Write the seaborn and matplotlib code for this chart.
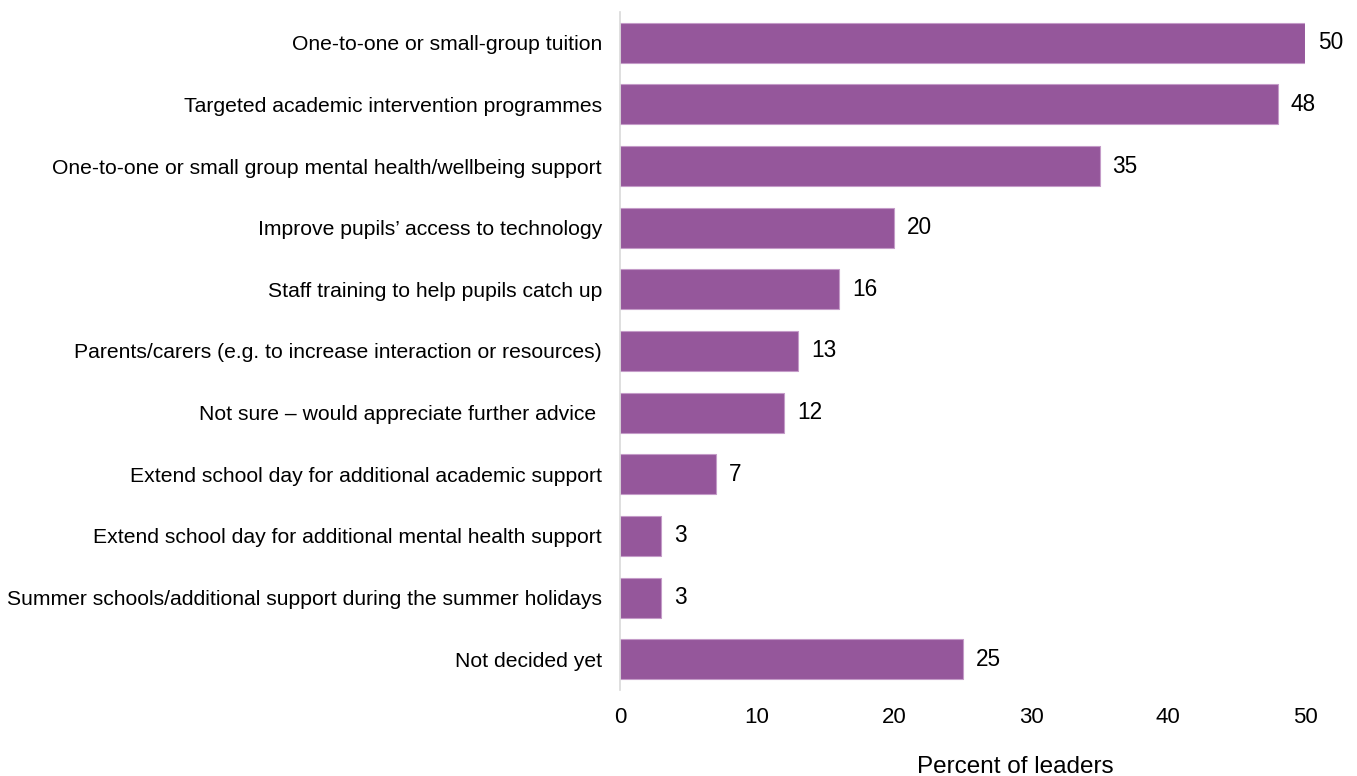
import matplotlib
matplotlib.use("Agg")
import matplotlib.pyplot as plt
import seaborn as sns
import pandas as pd

categories = [
    "One-to-one or small-group tuition",
    "Targeted academic intervention programmes",
    "One-to-one or small group mental health/wellbeing support",
    "Improve pupils\u2019 access to technology",
    "Staff training to help pupils catch up",
    "Parents/carers (e.g. to increase interaction or resources)",
    "Not sure \u2013 would appreciate further advice ",
    "Extend school day for additional academic support",
    "Extend school day for additional mental health support",
    "Summer schools/additional support during the summer holidays",
    "Not decided yet",
]
values = [50, 48, 35, 20, 16, 13, 12, 7, 3, 3, 25]
x_ticks = [0, 10, 20, 30, 40, 50]

df = pd.DataFrame({"category": categories, "percent": values})

sns.set_style("white")
plt.rcParams["font.family"] = ["Liberation Sans", "DejaVu Sans"]
plt.rcParams["text.color"] = "black"
plt.rcParams["xtick.color"] = "black"
plt.rcParams["ytick.color"] = "black"
plt.rcParams["axes.labelcolor"] = "black"

FS = 15.2

fig = plt.figure(figsize=(13.57, 7.76), dpi=100)
ax = fig.add_axes([620 / 1357, 1 - 690 / 776, 685 / 1357, 678 / 776])

sns.barplot(data=df, x="percent", y="category", color="#95579b",
            saturation=1, width=0.65, ax=ax, edgecolor="#c49bc8", linewidth=0.8)

for i, v in enumerate(values):
    ax.text(v + 0.95, i, f"{v}", va="center", ha="left", fontsize=16.3, color="black")

ax.set_xlim(0, 50)
ax.set_ylim(10.5, -0.5)
ax.set_xticks(x_ticks)
ax.set_xticklabels([str(t) for t in x_ticks], fontsize=16)
ax.tick_params(axis="y", labelsize=FS, length=0, pad=13)
ax.tick_params(axis="x", length=0, pad=12)
ax.set_ylabel("")
ax.set_xlabel("Percent of leaders", fontsize=17.5)
ax.xaxis.set_label_coords(0.577, -0.098)

for side in ["top", "right", "bottom"]:
    ax.spines[side].set_visible(False)
ax.spines["left"].set_color("#d9d9d9")
ax.spines["left"].set_linewidth(1.2)

fig.savefig("out.png", dpi=100)
